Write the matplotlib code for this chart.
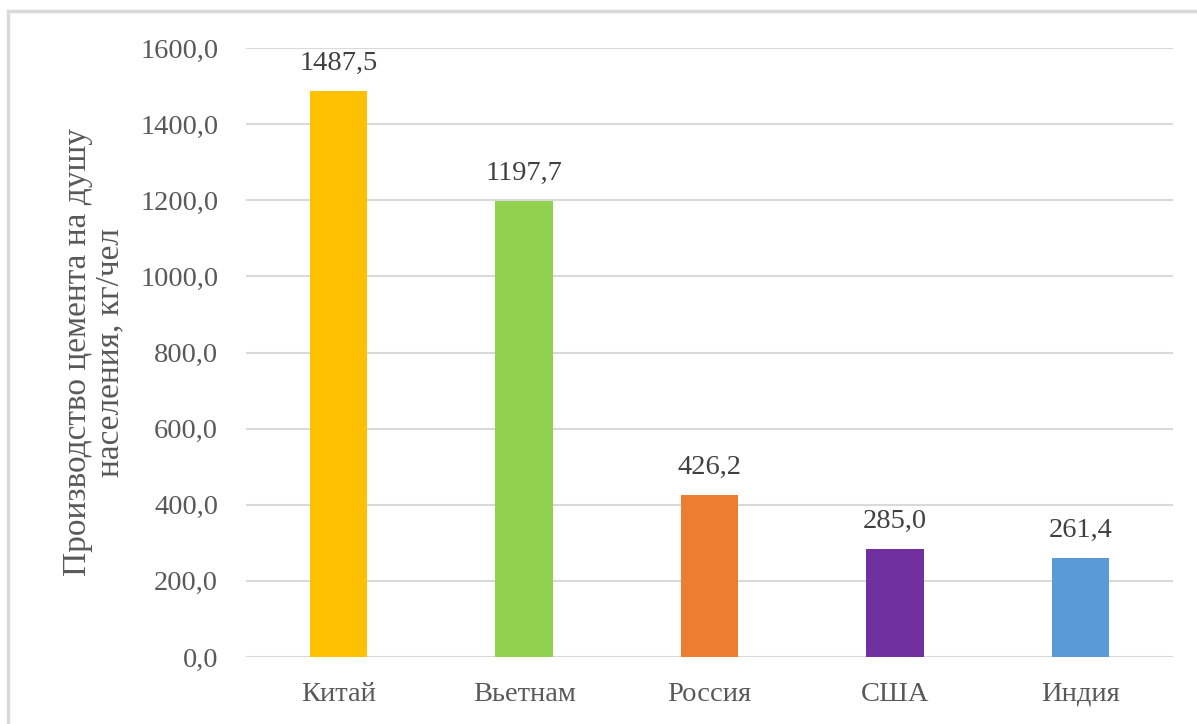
import matplotlib.pyplot as plt
from matplotlib.patches import Rectangle

countries = ['Китай', 'Вьетнам', 'Россия', 'США', 'Индия']
values = [1487.5, 1197.7, 426.2, 285.0, 261.4]
colors = ['#FFC000', '#92D050', '#ED7D31', '#7030A0', '#5B9BD5']
yticks = [0, 200, 400, 600, 800, 1000, 1200, 1400, 1600]

plt.rcParams['font.family'] = ['Liberation Serif', 'DejaVu Serif']
txt = '#595959'

fig = plt.figure(figsize=(11.97, 7.24), dpi=100)
W, H = 1197, 724
ax = fig.add_axes([246 / W, 1 - 657 / H, (1173 - 246) / W, (657 - 48) / H])

x = range(len(countries))
bars = ax.bar(x, values, width=0.31, color=colors, zorder=3)
for xi, v in zip(x, values):
    ax.annotate(f'{v:.1f}'.replace('.', ','), (xi, v), xytext=(0, 15),
                textcoords='offset points', ha='center', va='baseline',
                fontsize=20.5, color='#404040')

ax.set_xlim(-0.5, len(countries) - 0.5)
ax.set_ylim(0, 1600)
ax.set_yticks(yticks)
ax.set_yticklabels([f'{t:.1f}'.replace('.', ',') for t in yticks], fontsize=20.5, color=txt)
ax.set_xticks(list(x))
ax.set_xticklabels(countries, fontsize=20.5, color=txt)
ax.tick_params(axis='both', length=0)
ax.tick_params(axis='y', pad=20)
ax.tick_params(axis='x', pad=18)
ax.grid(axis='y', color='#D9D9D9', linewidth=1.5, zorder=0)
for s in ax.spines.values():
    s.set_visible(False)

ax.set_ylabel('Производство цемента на душу\nнаселения, кг/чел', fontsize=24,
              color=txt, linespacing=1.05, labelpad=11)

fig.patches.append(Rectangle((8 / W, -0.05), 1.0, 1 - 11 / H + 0.05,
                             transform=fig.transFigure, fill=False,
                             edgecolor='#D9D9D9', linewidth=2.5))

fig.savefig('out.png', dpi=100)
